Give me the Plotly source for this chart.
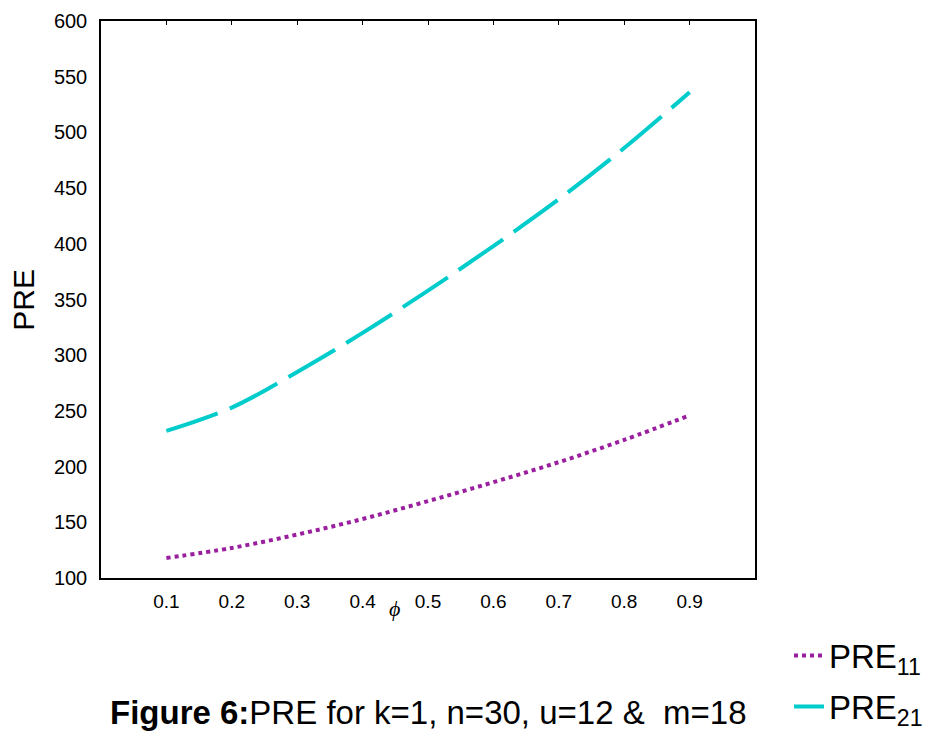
import plotly.graph_objects as go

phi = [0.1, 0.2, 0.3, 0.4, 0.5, 0.6, 0.7, 0.8, 0.9]
pre11 = [118, 127, 139, 153, 169, 186, 204, 224, 246]
pre21 = [232, 253, 285, 320, 358, 398, 440, 486, 536]
y_ticks = [100, 150, 200, 250, 300, 350, 400, 450, 500, 550, 600]
x_ticks = phi

FONT = "Liberation Sans, Arial, sans-serif"

fig = go.Figure()
fig.add_trace(go.Scatter(
    x=phi, y=pre11, mode="lines", name="PRE<sub>11</sub>", legendgroup="a",
    line=dict(color="#9A1F9E", width=4, dash="4px,4px", shape="spline"),
))
fig.add_trace(go.Scatter(
    x=phi, y=pre21, mode="lines", name="PRE<sub>21</sub>", legendgroup="b",
    line=dict(color="#00CCCC", width=4, dash="54px,13px", shape="spline"),
))
# invisible trace to activate top axis
fig.add_trace(go.Scatter(
    x=phi, y=pre11, xaxis="x2", mode="lines", line=dict(width=0),
    showlegend=False, hoverinfo="skip", opacity=0,
))

fig.update_layout(
    width=932, height=731,
    margin=dict(l=101, r=177, t=21, b=153, autoexpand=False),
    plot_bgcolor="white", paper_bgcolor="white",
    font=dict(family=FONT, color="black"),
    showlegend=True,
    legend=dict(
        x=1.052, y=-0.089, xanchor="left", yanchor="top",
        font=dict(size=33, family=FONT), bgcolor="rgba(0,0,0,0)",
        tracegroupgap=5,
    ),
    xaxis=dict(
        range=[0, 1], tickvals=x_ticks, ticktext=[str(v) for v in x_ticks],
        ticks="", showgrid=False, zeroline=False,
        showline=True, linecolor="black", linewidth=1.5,
        tickfont=dict(size=19), ticklabelstandoff=5,
    ),
    xaxis2=dict(
        range=[0, 1], overlaying="x", side="top", tickvals=x_ticks,
        ticks="inside", ticklen=4, tickcolor="black", tickwidth=1,
        showticklabels=False, showgrid=False, zeroline=False,
        showline=True, linecolor="black", linewidth=1.5,
    ),
    yaxis=dict(
        range=[100, 600], tickvals=y_ticks, ticks="", showgrid=False,
        zeroline=False, showline=True, linecolor="black", linewidth=1.5,
        mirror=True, tickfont=dict(size=20), ticklabelstandoff=8,
    ),
    annotations=[
        dict(text="PRE", xref="paper", yref="paper", x=-0.119, y=0.5,
             textangle=-90, showarrow=False, font=dict(size=30),
             xanchor="center", yanchor="middle"),
        dict(text="<i>ϕ</i>", xref="paper", yref="paper", x=0.4495, y=-0.054,
             showarrow=False, xanchor="center", yanchor="middle",
             font=dict(size=22, family="Liberation Serif, serif")),
        dict(text="<b>Figure 6:</b>PRE for k=1, n=30, u=12 &amp;  m=18",
             xref="paper", yref="paper", x=0.5, y=-0.242,
             showarrow=False, xanchor="center", yanchor="middle",
             font=dict(size=33)),
    ],
)

fig.write_html("out.html")
